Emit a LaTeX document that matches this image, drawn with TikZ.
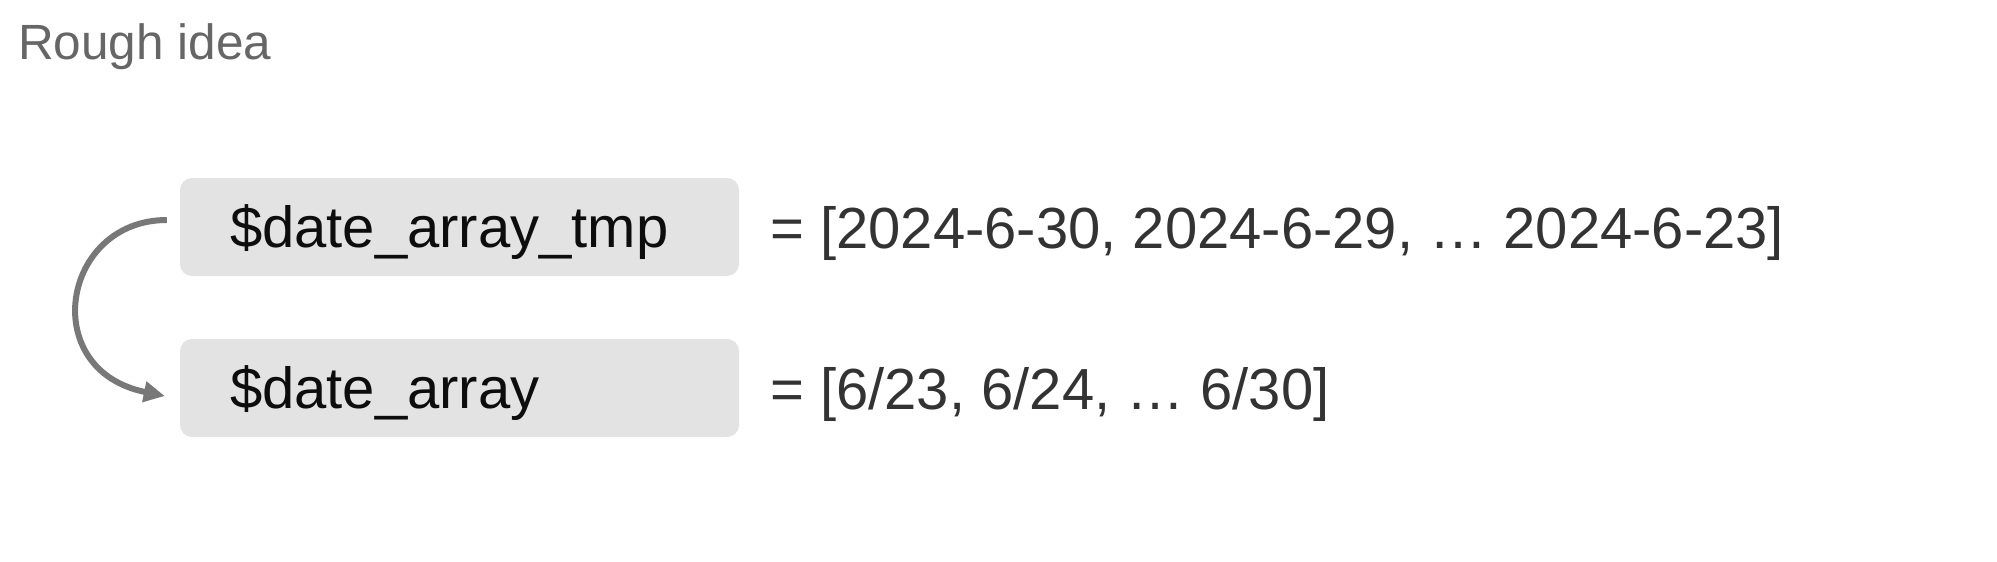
\documentclass[tikz,border=0pt]{standalone}
\usepackage{fontspec}
\setmainfont{Liberation Sans}
\usetikzlibrary{arrows.meta}
\definecolor{boxgray}{HTML}{E4E3E4}
\definecolor{titlegray}{HTML}{666666}
\definecolor{valgray}{HTML}{333333}
\definecolor{arrowgray}{HTML}{787878}
\tikzset{
  varbox/.style={rounded corners=12pt, fill=boxgray, minimum width=559pt, minimum height=98pt,
    inner xsep=50pt, inner ysep=0pt, text width=459pt, align=left,
    text height=41.5pt, text depth=0pt, text=black!95,
    font=\fontsize{58}{70}\selectfont},
  valtext/.style={anchor=base west, inner sep=0pt, text=valgray, font=\fontsize{58}{70}\selectfont},
  titletext/.style={anchor=base west, inner sep=0pt, text=titlegray, font=\fontsize{49.5}{60}\selectfont},
  flowarrow/.style={draw=arrowgray, line width=6pt, -{Triangle[length=21pt,width=20pt]}}
}
\begin{document}
\begin{tikzpicture}[x=1pt,y=-1pt]
\useasboundingbox (0,0) rectangle (1997,562);
\node[titletext] (title) at (18,59) {Rough idea};
\node[varbox] (b1) at (459.5,227) {\$date\_array\_tmp};
\node[varbox] (b2) at (459.5,388) {\$date\_array};
\node[valtext] (v1) at (770,248) {= [2024-6-30, 2024-6-29, … 2024-6-23]};
\node[valtext] (v2) at (770,409) {= [6/23, 6/24, … 6/30]};
\coordinate (s) at ([xshift=-13pt,yshift=7pt]b1.west);
\coordinate (e) at ([xshift=-15pt,yshift=-8pt]b2.west);
\draw[flowarrow] (s) .. controls +(-105,0) and +(-128,-26) .. (e);
\end{tikzpicture}
\end{document}
